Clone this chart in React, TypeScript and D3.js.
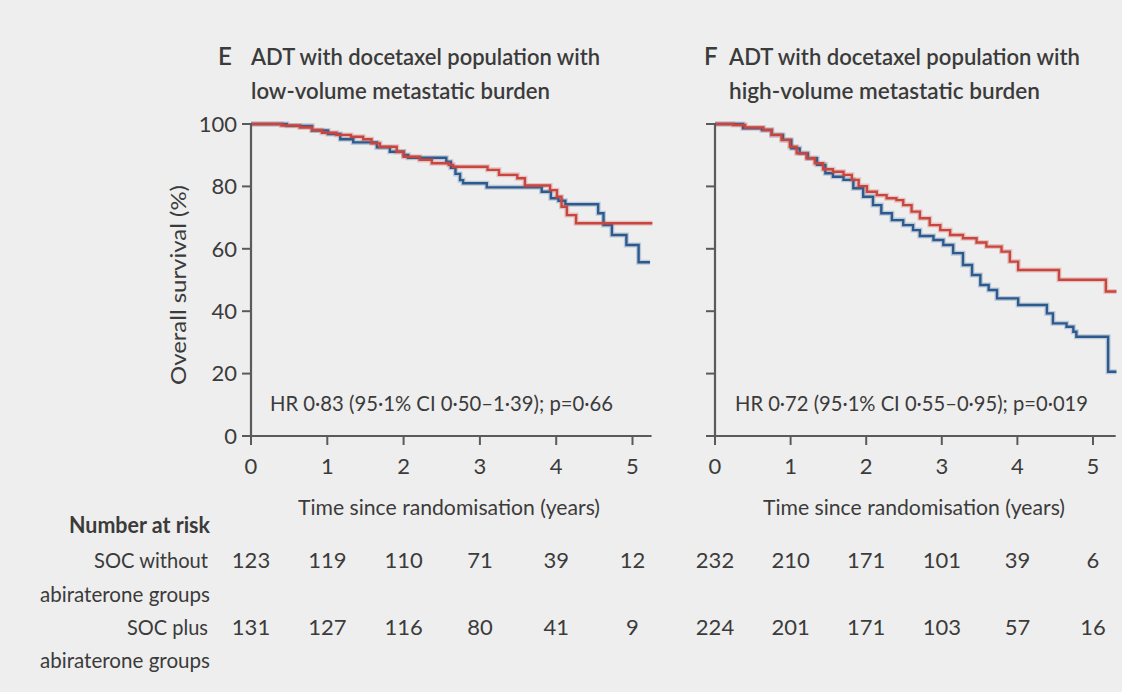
import React from 'react';
import * as d3 from 'd3';

const X_TICKS = [0, 1, 2, 3, 4, 5];
const Y_TICKS = [0, 20, 40, 60, 80, 100];

// Panel E (low-volume)
const E_SOC_TIME = [0, 0.47, 0.8, 1.01, 1.17, 1.34, 1.65, 1.82, 2.0, 2.06, 2.56, 2.62, 2.68, 2.74, 2.78, 3.09, 3.81, 3.93, 4.03, 4.12, 4.55, 4.62, 4.73, 4.92, 5.08, 5.23];
const E_SOC_SURV = [100, 99.4, 97.9, 96.8, 95.1, 94.1, 92.5, 91.1, 90.1, 89.2, 87.9, 86, 84, 82, 81, 79.7, 78.3, 76.2, 75.4, 74.3, 71.4, 67.6, 64.4, 61.2, 55.7, 55.7];
const E_ABI_TIME = [0, 0.4, 0.64, 0.8, 0.93, 1.12, 1.31, 1.47, 1.58, 1.69, 1.91, 2.0, 2.21, 2.37, 2.59, 2.65, 3.1, 3.25, 3.49, 3.59, 3.92, 4.01, 4.07, 4.14, 4.26, 5.26];
const E_ABI_SURV = [100, 99.5, 98.9, 98.1, 97.2, 96.5, 95.9, 95.1, 93.8, 92.7, 91.1, 89.5, 88.5, 87.4, 86.9, 86.3, 85.3, 83.7, 82.6, 80.3, 78.8, 76.7, 73.5, 70.8, 68.2, 68.2];

// Panel F (high-volume)
const F_SOC_TIME = [0, 0.37, 0.62, 0.75, 0.9, 1.01, 1.12, 1.23, 1.35, 1.46, 1.56, 1.7, 1.83, 1.96, 2.09, 2.2, 2.34, 2.49, 2.62, 2.71, 2.89, 3.02, 3.15, 3.28, 3.4, 3.51, 3.62, 3.73, 4.01, 4.39, 4.47, 4.65, 4.74, 4.78, 5.2, 5.31];
const F_SOC_SURV = [100, 98.6, 98.1, 96.5, 94.9, 92.2, 90.6, 89, 86.9, 84.2, 83.1, 82.1, 79.4, 76.7, 74, 71.4, 69.2, 67.6, 66, 64.1, 62.8, 61.2, 58.6, 54.8, 51.6, 48.4, 46.8, 44.1, 42, 39.3, 36.1, 35, 33.4, 31.8, 20.6, 20.6];
const F_ABI_TIME = [0, 0.24, 0.4, 0.64, 0.75, 0.88, 0.99, 1.08, 1.21, 1.32, 1.43, 1.56, 1.7, 1.81, 1.9, 2.01, 2.14, 2.27, 2.4, 2.49, 2.6, 2.71, 2.84, 2.98, 3.11, 3.28, 3.46, 3.59, 3.79, 3.9, 4.01, 4.55, 5.17, 5.31];
const F_ABI_SURV = [100, 99.7, 98.9, 98.1, 96.5, 94.9, 92.7, 90.6, 89, 87.4, 85.5, 84.7, 83.7, 82.1, 80.1, 78.3, 77.2, 76.2, 75.6, 74, 71.9, 69.8, 67.6, 66, 64.4, 63.4, 62, 60.7, 59.1, 55.9, 53.2, 50.1, 46.3, 46.3];

const E_AT_RISK_SOC = [123, 119, 110, 71, 39, 12];
const E_AT_RISK_ABI = [131, 127, 116, 80, 41, 9];
const F_AT_RISK_SOC = [232, 210, 171, 101, 39, 6];
const F_AT_RISK_ABI = [224, 201, 171, 103, 57, 16];

const E_TITLE = ['ADT with docetaxel population with', 'low-volume metastatic burden'];
const F_TITLE = ['ADT with docetaxel population with', 'high-volume metastatic burden'];
const E_HR = 'HR 0·83 (95·1% CI 0·50–1·39); p=0·66';
const F_HR = 'HR 0·72 (95·1% CI 0·55–0·95); p=0·019';
const X_TITLE = 'Time since randomisation (years)';
const Y_TITLE = 'Overall survival (%)';

const FONT = 'Lato, "Open Sans", sans-serif';
const TEXT = '#3b3b3b';
const AXIS = '#5a5a5a';
const RED = '#c9463f';
const BLUE = '#2d5a8e';

type PanelProps = {
  letter: string;
  letterX: number;
  title: string[];
  titleX: number;
  titleLens: number[];
  x0: number;
  ppy: number;
  maxT: number;
  hr: string;
  hrX: number;
  hrLen: number;
  xTitleX: number;
  xTitleLen: number;
  showYLabels: boolean;
  soc: { t: number[]; s: number[] };
  abi: { t: number[]; s: number[] };
  riskSoc: number[];
  riskAbi: number[];
};

function Panel(p: PanelProps) {
  const x = d3.scaleLinear().domain([0, p.maxT]).range([p.x0, p.x0 + p.maxT * p.ppy]);
  const y = d3.scaleLinear().domain([0, 100]).range([436, 124]);
  const line = d3
    .line<[number, number]>()
    .x((d) => x(d[0]))
    .y((d) => y(d[1]))
    .curve(d3.curveStepAfter);
  const path = (ser: { t: number[]; s: number[] }) =>
    line(ser.t.map((t, i) => [t, ser.s[i]] as [number, number])) || '';
  const tick = 9;
  return (
    <g>
      {/* title */}
      <text x={p.letterX} y={65} fontSize={24} fontWeight={600} fill={TEXT} fontFamily={FONT}>
        {p.letter}
      </text>
      {p.title.map((t, i) => (
        <text key={i} x={p.titleX} y={65 + i * 34} fontSize={23} fontWeight={600} fill={TEXT}
          fontFamily={FONT} textLength={p.titleLens[i]} lengthAdjust="spacingAndGlyphs">
          {t}
        </text>
      ))}
      {/* curves */}
      {[{ ser: p.soc, c: BLUE }, { ser: p.abi, c: RED }].map((o, i) => (
        <g key={i}>
          <path d={path(o.ser)} fill="none" stroke={o.c} strokeOpacity={0.25} strokeWidth={5} />
          <path d={path(o.ser)} fill="none" stroke={o.c} strokeWidth={2.4} />
        </g>
      ))}
      {/* y axis */}
      <line x1={p.x0} x2={p.x0} y1={y(0)} y2={y(100) - 1} stroke={AXIS} strokeWidth={2.2} />
      {Y_TICKS.map((v) => (
        <g key={v}>
          <line x1={p.x0 - tick} x2={p.x0} y1={y(v)} y2={y(v)} stroke={AXIS} strokeWidth={2} />
          {p.showYLabels && (
            <text x={p.x0 - 14} y={y(v)} dy="0.35em" textAnchor="end" fontSize={22} fill={TEXT} fontFamily={FONT}>
              {v}
            </text>
          )}
        </g>
      ))}
      {/* x axis */}
      <line x1={p.x0 - 1} x2={x(p.maxT)} y1={y(0)} y2={y(0)} stroke={AXIS} strokeWidth={2.2} />
      {X_TICKS.map((v) => (
        <g key={v}>
          <line x1={x(v)} x2={x(v)} y1={y(0)} y2={y(0) + tick} stroke={AXIS} strokeWidth={2} />
          <text x={x(v)} y={466} dy="0.35em" textAnchor="middle" fontSize={22} fill={TEXT} fontFamily={FONT}>
            {v}
          </text>
        </g>
      ))}
      <text x={p.xTitleX} y={508} dy="0.35em" fontSize={21} fill={TEXT} fontFamily={FONT}
        textLength={p.xTitleLen} lengthAdjust="spacingAndGlyphs">
        {X_TITLE}
      </text>
      {/* HR */}
      <text x={p.hrX} y={411} fontSize={21} fill={TEXT} fontFamily={FONT}
        textLength={p.hrLen} lengthAdjust="spacingAndGlyphs">
        {p.hr}
      </text>
      {/* number at risk */}
      {X_TICKS.map((v, i) => (
        <g key={'r' + v}>
          <text x={x(v)} y={560} dy="0.35em" textAnchor="middle" fontSize={22} fill={TEXT} fontFamily={FONT}>
            {p.riskSoc[i]}
          </text>
          <text x={x(v)} y={627} dy="0.35em" textAnchor="middle" fontSize={22} fill={TEXT} fontFamily={FONT}>
            {p.riskAbi[i]}
          </text>
        </g>
      ))}
    </g>
  );
}

export default function App() {
  const W = 1122;
  const H = 692;
  const labelStyle = { fontSize: 22, fill: TEXT, fontFamily: FONT } as any;
  return (
    <svg width={W} height={H} style={{ position: 'absolute', left: 0, top: 0 }}>
      <rect x={0} y={0} width={W} height={H} fill="#eeeeee" />
      <Panel
        letter="E"
        letterX={218}
        title={E_TITLE}
        titleX={251}
        titleLens={[349, 299]}
        x0={251}
        ppy={76.3}
        maxT={5.25}
        hr={E_HR}
        hrX={270}
        hrLen={343}
        xTitleX={298}
        xTitleLen={302}
        showYLabels={true}
        soc={{ t: E_SOC_TIME, s: E_SOC_SURV }}
        abi={{ t: E_ABI_TIME, s: E_ABI_SURV }}
        riskSoc={E_AT_RISK_SOC}
        riskAbi={E_AT_RISK_ABI}
      />
      <Panel
        letter="F"
        letterX={704}
        title={F_TITLE}
        titleX={729}
        titleLens={[351, 311]}
        x0={715}
        ppy={75.6}
        maxT={5.3}
        hr={F_HR}
        hrX={735}
        hrLen={353}
        xTitleX={763}
        xTitleLen={302}
        showYLabels={false}
        soc={{ t: F_SOC_TIME, s: F_SOC_SURV }}
        abi={{ t: F_ABI_TIME, s: F_ABI_SURV }}
        riskSoc={F_AT_RISK_SOC}
        riskAbi={F_AT_RISK_ABI}
      />
      <text transform="translate(178,285) rotate(-90)" textAnchor="middle" dy="0.35em"
        textLength={200} lengthAdjust="spacingAndGlyphs" {...labelStyle}>
        {Y_TITLE}
      </text>
      <text x={210} y={525} dy="0.35em" textAnchor="end" fontWeight={700}
        textLength={141} lengthAdjust="spacingAndGlyphs" {...labelStyle}>
        Number at risk
      </text>
      <text x={208} y={560} dy="0.35em" textAnchor="end" textLength={114} lengthAdjust="spacingAndGlyphs" {...labelStyle}>
        SOC without
      </text>
      <text x={210} y={594} dy="0.35em" textAnchor="end" textLength={170} lengthAdjust="spacingAndGlyphs" {...labelStyle}>
        abiraterone groups
      </text>
      <text x={208} y={627} dy="0.35em" textAnchor="end" textLength={81} lengthAdjust="spacingAndGlyphs" {...labelStyle}>
        SOC plus
      </text>
      <text x={210} y={660} dy="0.35em" textAnchor="end" textLength={170} lengthAdjust="spacingAndGlyphs" {...labelStyle}>
        abiraterone groups
      </text>
    </svg>
  );
}
